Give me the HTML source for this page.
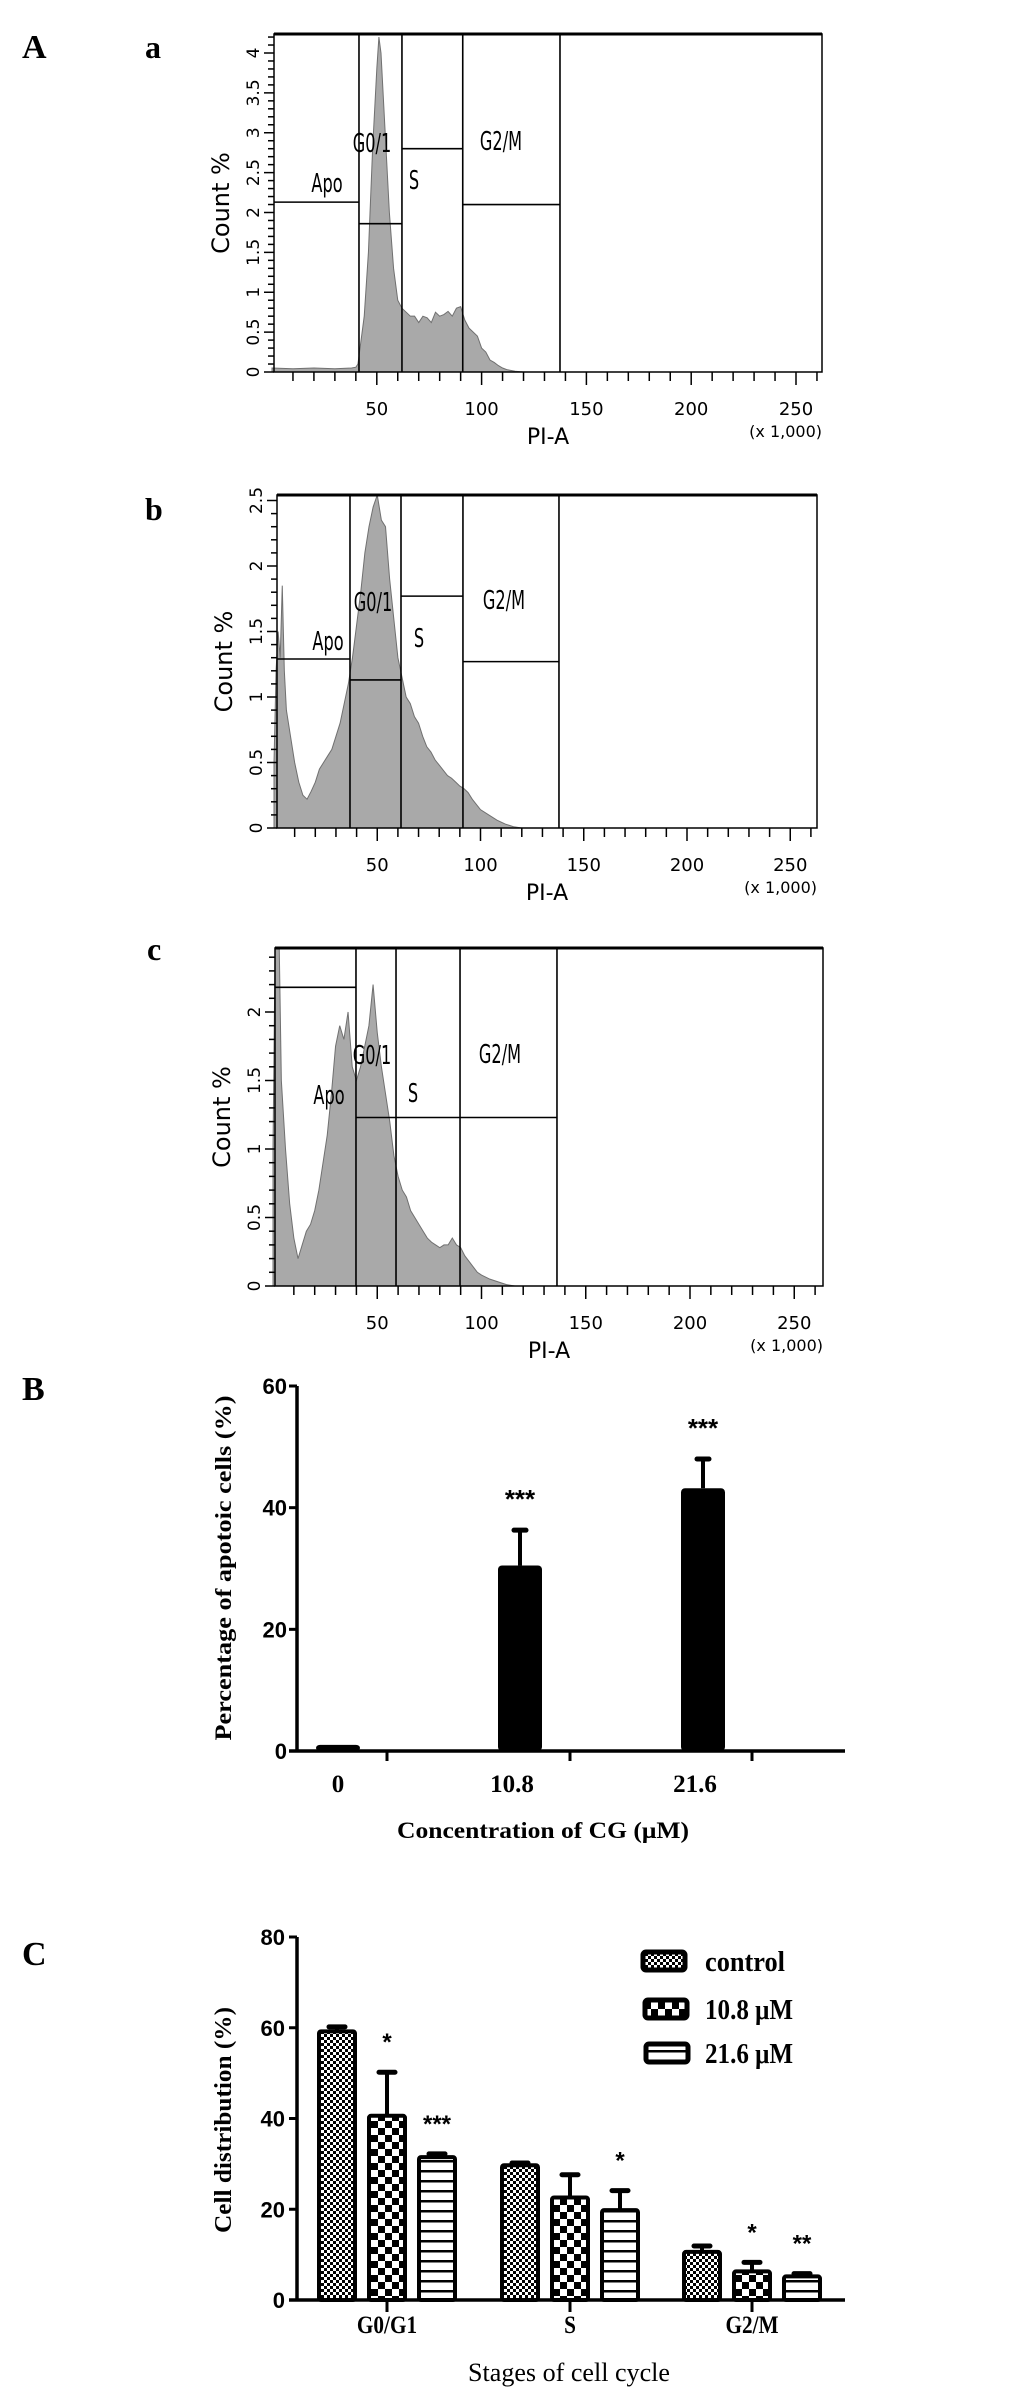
<!DOCTYPE html>
<html><head><meta charset="utf-8"><style>
html,body{margin:0;padding:0;background:#fff;}
svg{display:block;}
.flow{font-family:"DejaVu Sans","Liberation Sans",sans-serif;}
.ser{font-family:"Liberation Serif",serif;font-weight:bold;}
.sans{font-family:"Liberation Sans",sans-serif;font-weight:bold;}
</style></head><body>
<svg id="fig" width="1033" height="2400" viewBox="0 0 1033 2400" xmlns="http://www.w3.org/2000/svg">
<defs>
<pattern id="patCtrl" width="6" height="6" patternUnits="userSpaceOnUse"><rect width="6" height="6" fill="#fff"/><rect width="3" height="3" fill="#000"/><rect x="3" y="3" width="3" height="3" fill="#000"/></pattern>
<pattern id="patMid" width="14" height="14" patternUnits="userSpaceOnUse"><rect width="14" height="14" fill="#fff"/><rect width="7" height="7" fill="#000"/><rect x="7" y="7" width="7" height="7" fill="#000"/></pattern>
<pattern id="patHigh" width="10" height="10" patternUnits="userSpaceOnUse"><rect width="10" height="10" fill="#fff"/><rect y="0" width="10" height="2.5" fill="#000"/></pattern>
</defs>
<text x="22" y="58" class="ser" font-size="34">A</text>
<text x="145" y="58" class="ser" font-size="32">a</text>
<text x="145" y="520" class="ser" font-size="32">b</text>
<text x="147" y="960" class="ser" font-size="32">c</text>
<text x="22" y="1400" class="ser" font-size="34">B</text>
<text x="22" y="1965" class="ser" font-size="34">C</text>
</svg>
<script>
// ---------- Histogram data (x in thousands PI-A, y in Count %) ----------
const histAx=[0,10,20,30,38,40,41,42,44,46,48,50,51,52,54,56,58,60,62,64,66,68,70,72,74,76,78,80,82,84,86,88,90,92,94,96,98,100,102,104,106,108,110,112,116,120];
const histAy=[0.05,0.04,0.05,0.04,0.05,0.06,0.1,0.3,0.7,1.5,2.8,3.8,4.2,4.0,3.0,2.0,1.3,0.9,0.8,0.75,0.7,0.7,0.62,0.7,0.68,0.62,0.75,0.7,0.72,0.76,0.7,0.8,0.82,0.65,0.55,0.5,0.45,0.3,0.25,0.15,0.12,0.08,0.05,0.03,0.01,0];
const histBx=[0,1,2,3,4,5,6,8,10,12,14,16,18,20,22,24,26,28,30,32,34,36,38,40,42,44,46,48,50,52,54,56,58,60,62,64,66,68,70,72,74,76,78,80,82,84,86,88,90,92,94,96,98,100,104,108,112,116,120];
const histBy=[0.5,1.2,1.5,1.3,1.85,1.2,0.9,0.7,0.5,0.35,0.25,0.22,0.28,0.35,0.45,0.5,0.55,0.6,0.7,0.8,0.95,1.1,1.3,1.55,1.8,2.1,2.3,2.45,2.55,2.35,2.3,1.9,1.6,1.3,1.15,1.0,0.95,0.85,0.8,0.7,0.62,0.58,0.52,0.48,0.44,0.4,0.38,0.35,0.32,0.3,0.27,0.22,0.18,0.14,0.1,0.06,0.03,0.01,0];
const histCx=[0,1,2,3,4,6,8,10,12,14,16,18,20,22,24,26,28,30,32,34,36,38,40,42,44,46,48,50,52,54,56,58,60,62,64,66,68,70,72,74,76,78,80,82,84,86,88,90,92,94,96,98,100,104,108,112,116];
const histCy=[1.0,2.6,2.6,2.6,1.5,1.0,0.6,0.35,0.2,0.3,0.4,0.45,0.55,0.7,0.9,1.1,1.4,1.75,1.9,1.8,2.0,1.6,1.5,1.6,1.75,1.9,2.2,1.85,1.6,1.4,1.2,0.95,0.8,0.7,0.65,0.55,0.5,0.45,0.4,0.35,0.32,0.3,0.28,0.3,0.3,0.35,0.3,0.28,0.22,0.18,0.14,0.1,0.08,0.05,0.03,0.01,0];
// gate boundaries (thousands) and gate marker heights (Count %)
const gatesA=[41.5,62,91,137.4]; const gateHA=[2.13,1.86,2.8,2.1];
const gatesB=[36.8,61.5,91.5,138]; const gateHB=[1.29,1.13,1.77,1.27];
const gatesC=[39.8,59,89.7,136.2]; const gateHC=[2.18,1.23,1.23,1.23];
const xTickVals=[50,100,150,200,250];
// ---------- Bar chart B data ----------
const catsB=['0','10.8','21.6'];
const valsB=[1,30.5,43.2];
const errB=[0,5.8,4.8];
const starsB=['','***','***'];
const yTicksB=[0,20,40,60];
// ---------- Bar chart C data ----------
const stagesC=['G0/G1','S','G2/M'];
const seriesC=['control','10.8 μM','21.6 μM'];
const ctrlC=[59.2,29.7,10.6];
const midC=[40.6,22.6,6.3];
const highC=[31.5,19.8,5.2];
const ctrlErrC=[1.0,0.5,1.3];
const midErrC=[9.6,5.0,2.0];
const highErrC=[0.7,4.3,0.6];
const starsMidC=['*','','*'];
const starsHighC=['***','*','**'];
const yTicksC=[0,20,40,60,80];

const NS='http://www.w3.org/2000/svg';
const svg=document.getElementById('fig');
function mk(tag,attrs,parent){const e=document.createElementNS(NS,tag);for(const k in attrs)e.setAttribute(k,attrs[k]);(parent||svg).appendChild(e);return e;}

function flowPanel(cfg,hx,hy,gates,gateH,name){
  const g=mk('g',{'class':'flow'});
  
  
  const X=v=>cfg.x0+v*cfg.kx;
  const Y=v=>cfg.yb-v*cfg.ky;
  let d='M'+X(hx[0])+','+cfg.yb;
  for(let i=0;i<hx.length;i++){const yy=Math.max(cfg.yt,Y(hy[i]));d+=' L'+X(hx[i])+','+yy;}
  d+=' L'+X(hx[hx.length-1])+','+cfg.yb+' Z';
  const h=mk('path',{d:d,fill:'#a9a9a9',stroke:'#707070','stroke-width':1},g);
  
  
  const box=mk('rect',{x:cfg.xl,y:cfg.yt,width:cfg.xr-cfg.xl,height:cfg.yb-cfg.yt,fill:'none',stroke:'#000','stroke-width':1.5},g);
  
  
  mk('line',{x1:cfg.xl,y1:cfg.yt,x2:cfg.xr,y2:cfg.yt,stroke:'#000','stroke-width':3},g);
  const edges=[0].concat(gates);
  for(let i=0;i<gates.length;i++){
    const gl=mk('line',{x1:X(gates[i]),y1:cfg.yt,x2:X(gates[i]),y2:cfg.yb,stroke:'#000','stroke-width':1.6},g);
    
    
  }
  for(let i=0;i<gateH.length;i++){
    const x1=i===0?cfg.xl:X(edges[i]);
    const hl=mk('line',{x1:x1,y1:Y(gateH[i]),x2:X(edges[i+1]),y2:Y(gateH[i]),stroke:'#000','stroke-width':1.6},g);
    
    
  }
  const labs=['Apo','G0/1','S','G2/M'];
  for(let i=0;i<4;i++){
    const lx=cfg.lab[i][0], ly=cfg.lab[i][1]+4;
    const t=mk('text',{x:lx,y:ly,'font-size':19,'text-anchor':'middle',transform:'translate('+lx+','+ly+') scale(0.85,1.35) translate('+(-lx)+','+(-ly)+')'},g);
    t.textContent=labs[i];
    
    
  }
  for(let v=10;v<=260;v+=10){
    const major=v%50===0;
    mk('line',{x1:X(v),y1:cfg.yb,x2:X(v),y2:cfg.yb+(major?13:9),stroke:'#000','stroke-width':1.5},g);
  }
  for(const v of xTickVals){
    const t=mk('text',{x:X(v),y:cfg.yb+43,'font-size':18,'text-anchor':'middle'},g);
    t.textContent=v;
    
    
  }
  const xt=mk('text',{x:cfg.xl+(cfg.xr-cfg.xl)*0.5,y:cfg.yb+72,'font-size':22,'text-anchor':'middle'},g);
  xt.textContent='PI-A';
  
  
  const xs=mk('text',{x:cfg.xr,y:cfg.yb+65,'font-size':16,'text-anchor':'end'},g);
  xs.textContent='(x 1,000)';
  
  
  for(let v=0;v<=cfg.ymax+1e-6;v+=0.1){
    const yy=Y(v); if(yy<cfg.yt-1)break;
    const major=Math.abs(v*2-Math.round(v*2))<1e-6;
    mk('line',{x1:cfg.xl-(major?10:6),y1:yy,x2:cfg.xl,y2:yy,stroke:'#000','stroke-width':1.5},g);
    if(major){
      const lab=(Math.round(v*2)/2).toString();
      const t=mk('text',{x:cfg.xl-15,y:yy,'font-size':17,'text-anchor':'middle',transform:'rotate(-90 '+(cfg.xl-15)+' '+yy+')'},g);
      t.textContent=lab;
      
      
    }
  }
  const ym=(cfg.yt+cfg.yb)/2;
  const yt=mk('text',{x:cfg.xl-45,y:ym,'font-size':24,'text-anchor':'middle',transform:'rotate(-90 '+(cfg.xl-45)+' '+ym+')'},g);
  yt.textContent='Count %';
  
  
}
flowPanel({x0:272,kx:2.096,xl:274,xr:822,yt:34,yb:372,ky:79.75,ymax:4.2,
  lab:[[327,188],[372,148],[414,185],[501,146]]},histAx,histAy,gatesA,gateHA,'histogram-panel-a');
flowPanel({x0:274,kx:2.065,xl:277,xr:817,yt:495,yb:828,ky:131,ymax:2.54,
  lab:[[328,646],[373,607],[419,643],[504,605]]},histBx,histBy,gatesB,gateHB,'histogram-panel-b');
flowPanel({x0:273,kx:2.085,xl:275,xr:823,yt:948,yb:1286,ky:137,ymax:2.47,
  lab:[[329,1100],[372,1060],[413,1098],[500,1059]]},histCx,histCy,gatesC,gateHC,'histogram-panel-c');

// ---------- Chart B ----------
(function(){
  const g=mk('g',{});
  
  
  const ax=297, y0=1751, ky=(1751-1386)/60;
  const Y=v=>y0-v*ky;
  const cx=[338,520,703], bw=44;
  for(let i=0;i<catsB.length;i++){
    const top=Y(valsB[i]);
    const b=mk('rect',{x:cx[i]-bw/2,y:top,width:bw,height:y0-top,fill:'#000',rx:4},g);
    
    
    if(errB[i]>0){
      const et=Y(valsB[i]+errB[i]);
      const e=mk('line',{x1:cx[i],y1:top,x2:cx[i],y2:et,stroke:'#000','stroke-width':4},g);
      
      
      mk('line',{x1:cx[i]-6,y1:et,x2:cx[i]+6,y2:et,stroke:'#000','stroke-width':5,'stroke-linecap':'round'},g);
    }
    if(starsB[i]){
      const s=mk('text',{x:cx[i],y:Y(valsB[i]+errB[i])-22,'font-size':26,'text-anchor':'middle','class':'sans'},g);
      s.textContent=starsB[i];
      
      
    }
    const t=mk('text',{x:cx[i]-(i===0?0:8),y:1792,'font-size':25,'text-anchor':'middle','class':'ser'},g);
    t.textContent=catsB[i];
    
    
  }
  mk('line',{x1:ax,y1:Y(60),x2:ax,y2:y0+1.5,stroke:'#000','stroke-width':3.5},g);
  mk('line',{x1:ax-8,y1:y0,x2:845,y2:y0,stroke:'#000','stroke-width':3.5},g);
  for(const x of [387,570,752]) mk('line',{x1:x,y1:y0,x2:x,y2:y0+10,stroke:'#000','stroke-width':3},g);
  for(const v of yTicksB){
    mk('line',{x1:ax-8,y1:Y(v),x2:ax,y2:Y(v),stroke:'#000','stroke-width':3},g);
    const t=mk('text',{x:ax-10,y:Y(v)+8,'font-size':22,'text-anchor':'end','class':'sans'},g);
    t.textContent=v;
    
    
  }
  const yt=mk('text',{x:231,y:1568,'font-size':23,'text-anchor':'middle','class':'ser',textLength:345,lengthAdjust:'spacingAndGlyphs',transform:'rotate(-90 231 1568)'},g);
  yt.textContent='Percentage of apotoic cells (%)';
  
  
  const xt=mk('text',{x:543,y:1838,'font-size':23,'text-anchor':'middle','class':'ser',textLength:292,lengthAdjust:'spacingAndGlyphs'},g);
  xt.textContent='Concentration of CG (μM)';
  
  
})();

// ---------- Chart C ----------
(function(){
  const g=mk('g',{});
  
  
  const ax=297, y0=2300, ky=(2300-1937)/80;
  const Y=v=>y0-v*ky;
  const groupC=[387,570,752], off=[-50,0,50], bw=36;
  const series=[ctrlC,midC,highC], errs=[ctrlErrC,midErrC,highErrC], pats=['url(#patCtrl)','url(#patMid)','url(#patHigh)'];
  const stars=[null,starsMidC,starsHighC];
  for(let s=0;s<3;s++){
    for(let i=0;i<stagesC.length;i++){
      const cx=groupC[i]+off[s], top=Y(series[s][i]);
      const et=Y(series[s][i]+errs[s][i]);
      const e=mk('line',{x1:cx,y1:top,x2:cx,y2:et,stroke:'#000','stroke-width':4},g);
      
      
      mk('line',{x1:cx-8,y1:et,x2:cx+8,y2:et,stroke:'#000','stroke-width':5,'stroke-linecap':'round'},g);
      const b=mk('rect',{x:cx-bw/2,y:top,width:bw,height:y0-top,fill:pats[s],stroke:'#000','stroke-width':4,rx:2},g);
      
      
      if(stars[s] && stars[s][i]){
        const t=mk('text',{x:cx,y:et-22,'font-size':24,'text-anchor':'middle','class':'sans'},g);
        t.textContent=stars[s][i];
        
        
      }
    }
  }
  for(let i=0;i<stagesC.length;i++){
    const t=mk('text',{x:groupC[i],y:2333,'font-size':25,'text-anchor':'middle','class':'ser',transform:'translate('+groupC[i]+',0) scale(0.85,1) translate('+(-groupC[i])+',0)'},g);
    t.textContent=stagesC[i];
    
    
  }
  mk('line',{x1:ax,y1:Y(80),x2:ax,y2:y0+1.5,stroke:'#000','stroke-width':3.5},g);
  mk('line',{x1:ax-8,y1:y0,x2:845,y2:y0,stroke:'#000','stroke-width':3.5},g);
  for(const x of groupC) mk('line',{x1:x,y1:y0,x2:x,y2:y0+12,stroke:'#000','stroke-width':3},g);
  for(const v of yTicksC){
    mk('line',{x1:ax-8,y1:Y(v),x2:ax,y2:Y(v),stroke:'#000','stroke-width':3},g);
    const t=mk('text',{x:ax-12,y:Y(v)+8,'font-size':22,'text-anchor':'end','class':'sans'},g);
    t.textContent=v;
    
    
  }
  const ly=[1961,2009,2053], lx=[641,643,644];
  for(let s=0;s<3;s++){
    const r=mk('rect',{x:lx[s]+2,y:ly[s]-9,width:42,height:18,fill:pats[s],stroke:'#000','stroke-width':5,rx:3},g);
    
    
    const t=mk('text',{x:705,y:ly[s]+10,'font-size':28,'class':'ser',textLength:s===0?80:88,lengthAdjust:'spacingAndGlyphs'},g);
    t.textContent=seriesC[s];
    
    
  }
  const yt=mk('text',{x:231,y:2120,'font-size':24,'text-anchor':'middle','class':'ser',textLength:226,lengthAdjust:'spacingAndGlyphs',transform:'rotate(-90 231 2120)'},g);
  yt.textContent='Cell distribution (%)';
  
  
  const xt=mk('text',{x:569,y:2381,'font-size':26,'text-anchor':'middle','font-family':'Liberation Serif, serif',textLength:202,lengthAdjust:'spacingAndGlyphs'},g);
  xt.textContent='Stages of cell cycle';
  
  
})();
</script>
</body></html>
